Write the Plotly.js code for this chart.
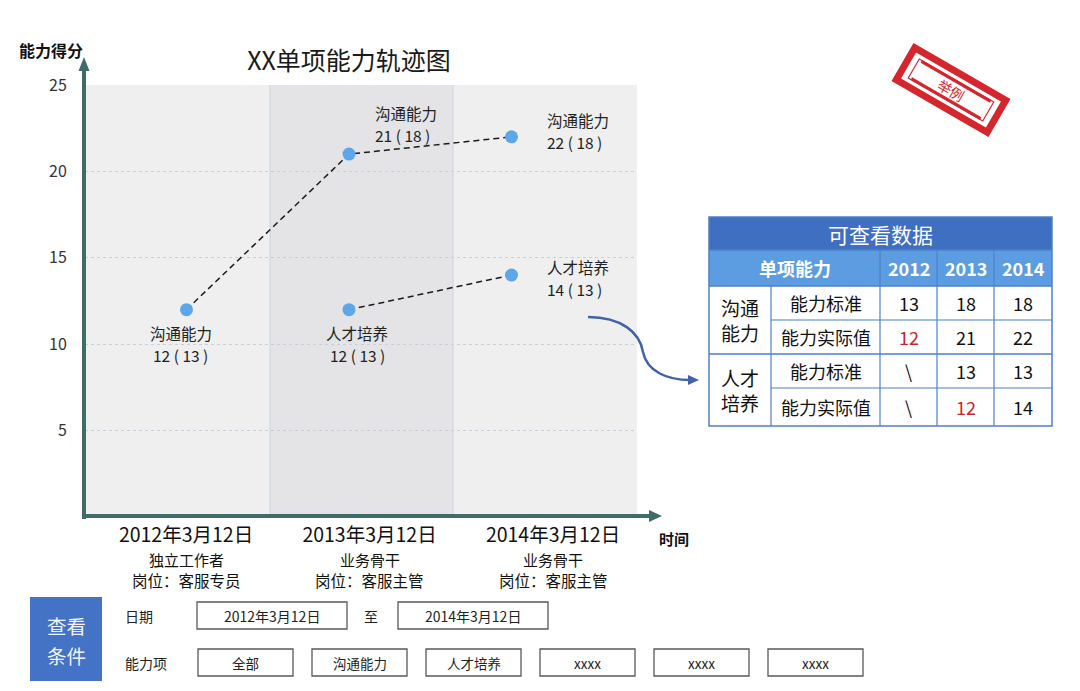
<!DOCTYPE html>
<html><head><meta charset="utf-8">
<script src="https://cdn.plot.ly/plotly-3.0.1.min.js"></script>
<style>html,body{margin:0;padding:0;background:#fff}</style>
</head><body><div id="chart" style="width:1080px;height:691px"></div>
<script>
// ---------- data ----------
const years = ["2012","2013","2014"];
const dateLabels = ["2012年3月12日","2013年3月12日","2014年3月12日"];
const roleLabels = ["独立工作者","业务骨干","业务骨干"];
const postLabels = ["岗位：客服专员","岗位：客服主管","岗位：客服主管"];
const seriesNames = ["沟通能力","人才培养"];
const commActual = [12,21,22];
const commStandard = [13,18,18];
const talentActual = [null,12,14];
const talentStandard = [null,13,13];
const yTicks = [5,10,15,20,25];
const chartTitle = "XX单项能力轨迹图";
const yAxisLabel = "能力得分";
const xAxisLabel = "时间";
const tableTitle = "可查看数据";
const tableHeader = "单项能力";
const groupLabels = ["沟通<br>能力","人才<br>培养"];
const metricLabels = ["能力标准","能力实际值"];
const stampText = "举例";
const filterTitleLines = ["查看","条件"];
const dateFieldLabel = "日期";
const dateRange = ["2012年3月12日","2014年3月12日"];
const rangeSep = "至";
const abilityFieldLabel = "能力项";
const abilityOptions = ["全部","沟通能力","人才培养","xxxx","xxxx","xxxx"];

// ---------- layout helpers ----------
const F = '"Noto Sans CJK SC","Noto Sans",sans-serif';
const L = 85, R = 637, T = 85, B = 517, W = R - L, H = B - T;
const px = x => (x - L) / W;
const py = y => (B - y) / H;
const pth = s => s.replace(/(-?\d+\.?\d*),(-?\d+\.?\d*)/g, (m, a, b) => px(+a) + ',' + py(+b));
const AX = '#3f6b68';

const shapes = [];
const annotations = [];
const rectPx = (x0, y0, x1, y1, fill, lineColor, lw, layer) => shapes.push({
  type: 'rect', xref: 'paper', yref: 'paper', x0: px(x0), x1: px(x1), y0: py(y1), y1: py(y0),
  fillcolor: fill || 'rgba(0,0,0,0)', line: {color: lineColor || 'rgba(0,0,0,0)', width: lw || 0}, layer: layer || 'above'
});
const linePx = (x0, y0, x1, y1, color, w, layer, dash) => shapes.push({
  type: 'line', xref: 'paper', yref: 'paper', x0: px(x0), x1: px(x1), y0: py(y0), y1: py(y1),
  line: {color: color, width: w, dash: dash || 'solid'}, layer: layer || 'above'
});
const textPx = (x, y, text, size, color, xanchor, extra) => annotations.push(Object.assign({
  xref: 'paper', yref: 'paper', x: px(x), y: py(y), text: text, showarrow: false,
  xanchor: xanchor || 'center', yanchor: 'middle', font: {family: F, size: size, color: color}
}, extra || {}));

// plot bands
rectPx(270, T, 453, B, '#e4e4e6', null, 0, 'below');
linePx(270, T, 270, B, '#ccd4df', 1, 'below');
linePx(453, T, 453, B, '#ccd4df', 1, 'below');

// axes with arrows
linePx(84, 519, 84, 68, AX, 4);
shapes.push({type: 'path', xref: 'paper', yref: 'paper', path: pth('M84,57 L78.5,71 L89.5,71 Z'), fillcolor: AX, line: {width: 0}});
linePx(82, 516, 650, 516, AX, 4);
shapes.push({type: 'path', xref: 'paper', yref: 'paper', path: pth('M662,516 L649,510 L649,522 Z'), fillcolor: AX, line: {width: 0}});

// curved pointer arrow
const ARC = '#4062a8';
shapes.push({type: 'path', xref: 'paper', yref: 'paper', path: pth('M588,317 C622,317 640,333 643,352 C647,372 668,380 690,380'), line: {color: ARC, width: 2.5}});
shapes.push({type: 'path', xref: 'paper', yref: 'paper', path: pth('M699,380 L688,375 L688,385 Z'), fillcolor: ARC, line: {width: 0}});

// stamp
const SC = '#d6262d', scx = 951, scy = 90, th = 30 * Math.PI / 180;
const rot = (dx, dy) => [scx + dx * Math.cos(th) - dy * Math.sin(th), scy + dx * Math.sin(th) + dy * Math.cos(th)];
const rrect = (w, h) => {
  const c = [[-w/2,-h/2],[w/2,-h/2],[w/2,h/2],[-w/2,h/2]].map(p => rot(p[0], p[1]));
  return 'M' + c.map(p => px(p[0]) + ',' + py(p[1])).join(' L') + ' Z';
};
const rline = (x0, y0, x1, y1) => {
  const a = rot(x0, y0), b = rot(x1, y1);
  return 'M' + px(a[0]) + ',' + py(a[1]) + ' L' + px(b[0]) + ',' + py(b[1]);
};
shapes.push({type: 'path', xref: 'paper', yref: 'paper', path: rrect(105, 37), line: {color: SC, width: 7}});
shapes.push({type: 'path', xref: 'paper', yref: 'paper', path: rrect(86, 22), line: {color: SC, width: 1.2}});
shapes.push({type: 'path', xref: 'paper', yref: 'paper', path: rline(-40, -10, 40, -10), line: {color: SC, width: 3}});
shapes.push({type: 'path', xref: 'paper', yref: 'paper', path: rline(-40, 10, 40, 10), line: {color: SC, width: 3}});
textPx(scx, scy, stampText, 14, SC, 'center', {textangle: 30});

// ---------- table ----------
const cx = [709, 771, 880, 937, 994, 1052];
const ry = [217, 250, 286, 320, 354, 388, 426];
const TB = '#4d80c8';
rectPx(cx[0], ry[0], cx[5], ry[1], '#3f6fc1');
rectPx(cx[0], ry[1], cx[5], ry[2], '#5b9de0');
rectPx(cx[0], ry[0], cx[5], ry[6], null, TB, 1.5);
linePx(cx[0], ry[1], cx[5], ry[1], TB, 1.5);
linePx(cx[0], ry[2], cx[5], ry[2], TB, 1.5);
linePx(cx[1], ry[3], cx[5], ry[3], TB, 1.2);
linePx(cx[0], ry[4], cx[5], ry[4], TB, 1.5);
linePx(cx[1], ry[5], cx[5], ry[5], TB, 1.2);
linePx(cx[1], ry[2], cx[1], ry[6], TB, 1.2);
[2, 3, 4].forEach(i => linePx(cx[i], ry[1], cx[i], ry[6], TB, 1.2));
textPx((cx[0] + cx[5]) / 2, (ry[0] + ry[1]) / 2, tableTitle, 21, '#ffffff');
textPx((cx[0] + cx[2]) / 2, (ry[1] + ry[2]) / 2, '<b>' + tableHeader + '</b>', 18, '#ffffff');
years.forEach((yr, i) => textPx((cx[i + 2] + cx[i + 3]) / 2, (ry[1] + ry[2]) / 2, '<b>' + yr + '</b>', 18, '#ffffff'));
const tableRows = [
  {std: commStandard, act: commStandard, isActual: false},
  {std: commStandard, act: commActual, isActual: true},
  {std: talentStandard, act: talentStandard, isActual: false},
  {std: talentStandard, act: talentActual, isActual: true}
];
groupLabels.forEach((g, gi) => textPx((cx[0] + cx[1]) / 2, (ry[2 + gi * 2] + ry[4 + gi * 2]) / 2, g, 19, '#111111'));
tableRows.forEach((row, ri) => {
  const yc = (ry[2 + ri] + ry[3 + ri]) / 2;
  textPx((cx[1] + cx[2]) / 2, yc, metricLabels[ri % 2], 18, '#111111');
  row.act.forEach((v, i) => {
    const red = row.isActual && v !== null && row.std[i] !== null && v < row.std[i];
    textPx((cx[i + 2] + cx[i + 3]) / 2, yc, v === null ? '\\' : String(v), 18, red ? '#c8242b' : '#111111');
  });
});

// ---------- filter controls ----------
rectPx(30, 597, 102, 681, '#4472c4');
filterTitleLines.forEach((t, i) => textPx(66, 625 + i * 30, t, 19.5, '#eef3fb'));
const BX = '#5a5a5a';
textPx(123, 616, dateFieldLabel, 14, '#222222', 'left');
textPx(123, 663, abilityFieldLabel, 14, '#222222', 'left');
const dateBoxX = [197, 398];
dateRange.forEach((d, i) => {
  rectPx(dateBoxX[i], 602, dateBoxX[i] + 150, 629, '#ffffff', BX, 1.3);
  textPx(dateBoxX[i] + 75, 615.5, d, 14, '#222222');
});
textPx(371, 616, rangeSep, 14, '#222222');
abilityOptions.forEach((o, i) => {
  const x0 = 198 + i * 114;
  rectPx(x0, 649, x0 + 95, 676, '#ffffff', BX, 1.3);
  textPx(x0 + 47.5, 662.5, o, 13.5, '#222222');
});

// axis titles
textPx(85, 50, '<b>' + yAxisLabel + '</b>', 16, '#111111', 'right');
textPx(657, 538, '<b>' + xAxisLabel + '</b>', 15, '#111111', 'left');

// ---------- traces ----------
const idx = years.map((_, i) => i);
const lineStyle = {color: '#1a1a1a', width: 1.5, dash: '6px,4px'};
const markerStyle = {size: 13, color: '#5ba7e8'};
const actuals = [commActual, talentActual];
const standards = [commStandard, talentStandard];
const traces = actuals.map((a, s) => ({
  x: idx, y: a, type: 'scatter', mode: 'lines+markers', name: seriesNames[s],
  line: lineStyle, marker: markerStyle, hoverinfo: 'skip', cliponaxis: false, xaxis: 'x', yaxis: 'y'
}));
traces.push({x: idx, y: idx.map(() => null), type: 'scatter', mode: 'markers', xaxis: 'x2', yaxis: 'y', hoverinfo: 'skip', showlegend: false});

// point labels (offsets in px relative to each point), one annotation per line
const labelPos = [
  [{xa: 'center', dx: -6, dy: -34}, {xa: 'left', dx: 24, dy: 30}, {xa: 'left', dx: 33, dy: 6}],
  [null, {xa: 'center', dx: 8, dy: -34}, {xa: 'left', dx: 33, dy: -3}]
];
actuals.forEach((a, s) => a.forEach((v, i) => {
  if (v === null) return;
  const p = labelPos[s][i];
  const lines = [seriesNames[s], v + ' ( ' + standards[s][i] + ' )'];
  lines.forEach((t, li) => annotations.push({
    xref: 'x', yref: 'y', x: idx[i], y: v, showarrow: false, xanchor: p.xa, yanchor: 'middle',
    xshift: p.dx, yshift: p.dy + (li === 0 ? 11 : -11), text: t,
    font: {family: F, size: 15.5, color: '#222222'}
  }));
}));

// second and third lines under each date tick
idx.forEach(i => {
  annotations.push({xref: 'x2', yref: 'paper', x: i, y: py(559), text: roleLabels[i], showarrow: false,
    xanchor: 'center', yanchor: 'middle', font: {family: F, size: 15, color: '#111111'}});
  annotations.push({xref: 'x2', yref: 'paper', x: i, y: py(580), text: postLabels[i], showarrow: false,
    xanchor: 'center', yanchor: 'middle', font: {family: F, size: 15.5, color: '#111111'}});
});

const layout = {
  width: 1080, height: 691, paper_bgcolor: '#ffffff', plot_bgcolor: '#efeff0',
  margin: {l: L, r: 1080 - R, t: T, b: 691 - B, pad: 0},
  showlegend: false, hovermode: false, font: {family: F, color: '#222'},
  title: {text: chartTitle, x: 349 / 1080, xanchor: 'center', xref: 'container', y: 1 - 61 / 691, yanchor: 'middle', yref: 'container', font: {family: F, size: 25, color: '#1a1a1a'}},
  xaxis: {range: [(L - 186.5) / 162.5, (R - 186.5) / 162.5], showticklabels: false, showgrid: false, zeroline: false, showline: false, fixedrange: true},
  xaxis2: {overlaying: 'x', anchor: 'y', side: 'bottom', range: [(L - 186) / 183.5, (R - 186) / 183.5],
    tickmode: 'array', tickvals: idx, ticktext: dateLabels, tickfont: {family: F, size: 19.5, color: '#111111'},
    ticks: 'outside', ticklen: 0.5, tickcolor: 'rgba(0,0,0,0)', showgrid: false, zeroline: false, showline: false, fixedrange: true},
  yaxis: {range: [0, 25], tickmode: 'array', tickvals: yTicks, tickfont: {family: F, size: 16, color: '#333333'},
    ticks: 'outside', ticklen: 14, tickcolor: 'rgba(0,0,0,0)', showgrid: true, gridcolor: '#c6cfdc', griddash: 'dot', gridwidth: 1,
    zeroline: false, showline: false, fixedrange: true},
  shapes: shapes, annotations: annotations
};
Plotly.newPlot('chart', traces, layout, {displayModeBar: false, staticPlot: true});
</script></body></html>
